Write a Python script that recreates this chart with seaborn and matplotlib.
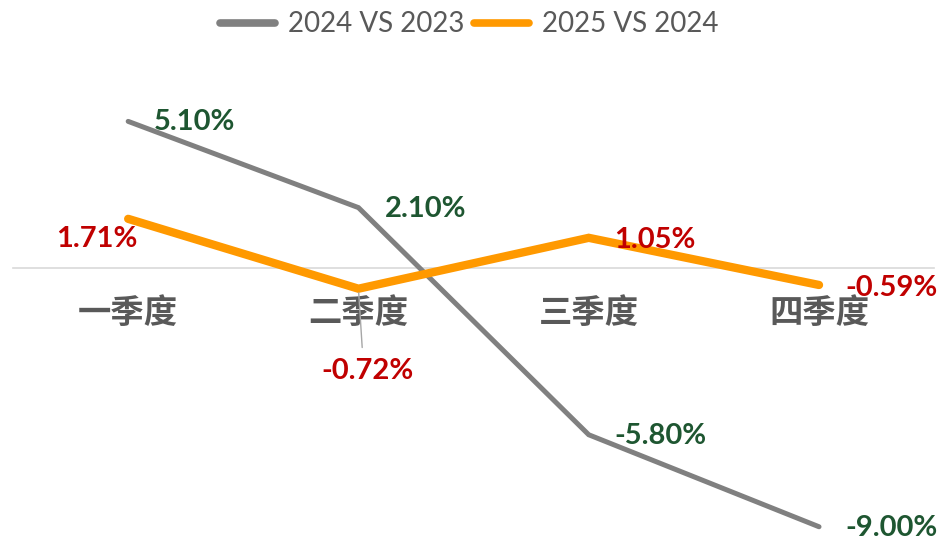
import pandas as pd
import matplotlib
matplotlib.use("Agg")
import matplotlib.pyplot as plt
import seaborn as sns
from matplotlib.lines import Line2D

quarters = ["一季度", "二季度", "三季度", "四季度"]
growth_2024 = [5.10, 2.10, -5.80, -9.00]
growth_2025 = [1.71, -0.72, 1.05, -0.59]
series_names = ["2024 VS 2023", "2025 VS 2024"]

sns.set_style("white")
plt.rcParams["font.family"] = ["Lato", "Noto Sans CJK SC", "DejaVu Sans"]

GRAY = "#808080"
ORANGE = "#FF9900"
GREEN = "#1E5631"
RED = "#C00000"
TEXT = "#595959"

df = pd.DataFrame({
    "quarter": quarters * 2,
    "value": growth_2024 + growth_2025,
    "series": [series_names[0]] * 4 + [series_names[1]] * 4,
})

fig = plt.figure(figsize=(9.38, 5.42), dpi=100)
ax = fig.add_axes([0.0139, 0.0129, 0.982, 0.8764])

d1 = df[df["series"] == series_names[0]]
d2 = df[df["series"] == series_names[1]]
sns.lineplot(data=d1, x="quarter", y="value", ax=ax, color=GRAY, lw=3.6,
             solid_joinstyle="miter", solid_capstyle="round", sort=False)
sns.lineplot(data=d2, x="quarter", y="value", ax=ax, color=ORANGE, lw=6,
             solid_joinstyle="miter", solid_capstyle="round", sort=False)
for line in ax.lines:
    line.set_clip_on(False)

ax.set_xlim(-0.5, 3.5)
ax.set_ylim(-9.287, 7.235)
ax.set_xlabel("")
ax.set_ylabel("")
ax.set_yticks([])
for s in ["top", "left", "right"]:
    ax.spines[s].set_visible(False)
ax.spines["bottom"].set_position(("data", 0))
ax.spines["bottom"].set_color("#D9D9D9")
ax.spines["bottom"].set_linewidth(1.2)
ax.spines["bottom"].set_zorder(0)
ax.tick_params(axis="x", length=0, pad=21, labelsize=24, labelcolor=TEXT)
for lab in ax.get_xticklabels():
    lab.set_fontweight("bold")
    lab.set_family(["Noto Sans CJK SC", "DejaVu Sans"])

lbl = dict(fontsize=21, fontweight="bold", textcoords="offset pixels", va="center")

# 2024 vs 2023 labels, right of the points
for i, v in enumerate(growth_2024):
    ax.annotate(f"{v:.2f}%", xy=(i, v), xytext=(26, -1), ha="left", color=GREEN, **lbl)

# 2025 vs 2024 labels
offsets = [(-31, -20, "center"), (None, None, None), (25, -2, "left"), (26, -3, "left")]
for i, v in enumerate(growth_2025):
    if i == 1:
        ax.annotate(f"{v:.2f}%", xy=(i, v), xytext=(9, -82), ha="center", color=RED,
                    arrowprops=dict(arrowstyle="-", color="#A6A6A6", lw=1,
                                    relpos=(0.45, 1.0), shrinkA=5, shrinkB=3),
                    **lbl)
    else:
        dx, dy, ha = offsets[i]
        ax.annotate(f"{v:.2f}%", xy=(i, v), xytext=(dx, dy), ha=ha, color=RED, **lbl)

handles = [Line2D([0], [0], color=GRAY, lw=5.5, solid_capstyle="round"),
           Line2D([0], [0], color=ORANGE, lw=5.5, solid_capstyle="round")]
leg = fig.legend(handles, series_names, loc="center", bbox_to_anchor=(0.5, 0.955),
                 ncol=2, frameon=False, fontsize=20, handlelength=2.0,
                 handletextpad=0.45, columnspacing=0.35)
for t in leg.get_texts():
    t.set_color(TEXT)

fig.savefig("out.png", dpi=100)
